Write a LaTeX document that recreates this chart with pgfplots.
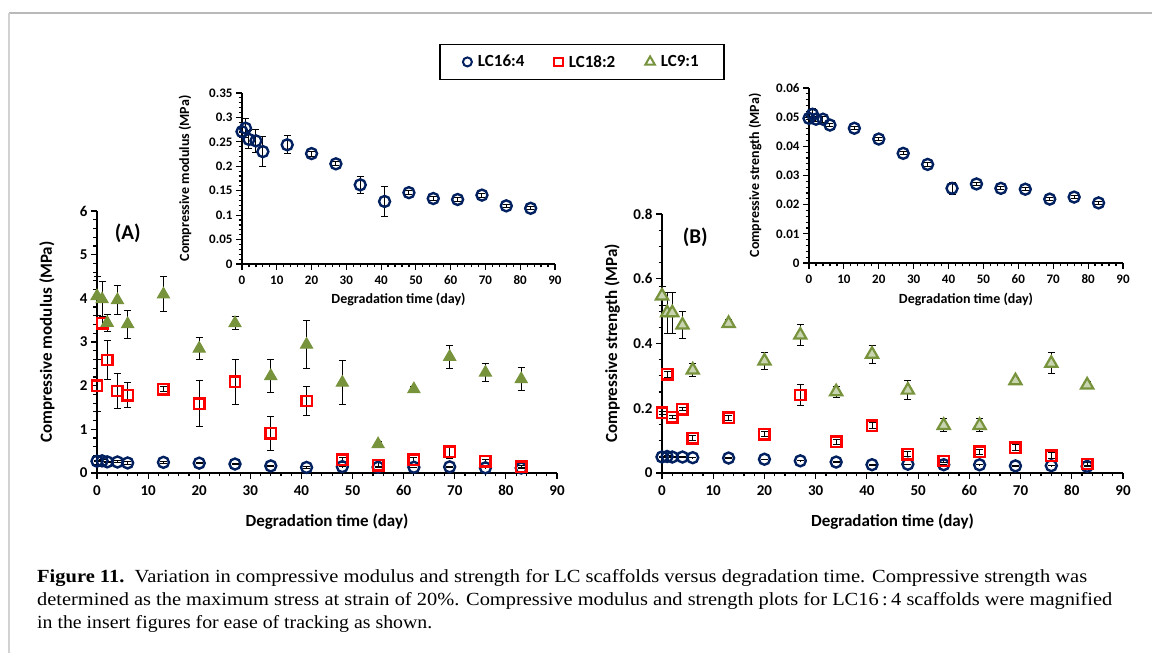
\documentclass[border=0pt]{standalone}
\usepackage{fontspec}
\setmainfont{Carlito}
\newfontfamily\capfont{Liberation Serif}
\usepackage{pgfplots}
\usepackage{pgfplotstable}
\pgfplotsset{compat=1.18}
\definecolor{lcnavy}{RGB}{0,32,96}
\definecolor{lcred}{RGB}{255,0,0}
\definecolor{lcgreen}{RGB}{119,147,60}

% modulus (A)
\pgfplotstableread{
x y e
0 0.271 0.010
1 0.278 0.020
2 0.255 0.018
4 0.252 0.023
6 0.230 0.031
13 0.244 0.018
20 0.226 0.005
27 0.205 0.004
34 0.162 0.018
41 0.128 0.031
48 0.146 0.004
55 0.134 0.004
62 0.132 0.004
69 0.141 0.004
76 0.119 0.003
83 0.114 0.003
}\modCirc
\pgfplotstableread{
x y e
0 2.00 0.60
1 3.43 0.10
2 2.59 0.44
4 1.88 0.41
6 1.78 0.29
13 1.92 0.05
20 1.59 0.53
27 2.09 0.51
34 0.91 0.39
41 1.65 0.33
48 0.30 0.05
55 0.18 0.05
62 0.30 0.05
69 0.49 0.15
76 0.27 0.05
83 0.14 0.03
}\modSq
\pgfplotstableread{
x y e
0 4.05 0.45
1 3.98 0.40
2 3.44 0.20
4 3.96 0.33
6 3.41 0.32
13 4.09 0.40
20 2.85 0.25
27 3.43 0.15
34 2.22 0.37
41 2.94 0.55
48 2.07 0.50
55 0.66 0.05
62 1.92 0.06
69 2.66 0.27
76 2.30 0.21
83 2.15 0.27
}\modTri
% strength (B)
\pgfplotstableread{
x y e
0 0.0496 0.0005
1 0.0510 0.0020
2 0.0493 0.0008
4 0.0493 0.0010
6 0.0473 0.0005
13 0.0462 0.0005
20 0.0425 0.0005
27 0.0376 0.0005
34 0.0338 0.0008
41 0.0256 0.0020
48 0.0271 0.0005
55 0.0256 0.0005
62 0.0253 0.0005
69 0.0219 0.0005
76 0.0226 0.0005
83 0.0206 0.0005
}\strCirc
\pgfplotstableread{
x y e
0 0.186 0.005
1 0.305 0.010
2 0.172 0.005
4 0.197 0.005
6 0.107 0.008
13 0.171 0.008
20 0.120 0.008
27 0.241 0.032
34 0.097 0.008
41 0.146 0.010
48 0.058 0.008
55 0.037 0.005
62 0.066 0.008
69 0.078 0.010
76 0.054 0.008
83 0.028 0.005
}\strSq
\pgfplotstableread{
x y e
0 0.547 0.030
1 0.495 0.063
2 0.495 0.063
4 0.457 0.041
6 0.318 0.020
13 0.462 0.012
20 0.346 0.025
27 0.426 0.032
34 0.251 0.017
41 0.367 0.028
48 0.256 0.030
55 0.147 0.020
62 0.147 0.020
69 0.285 0.010
76 0.339 0.033
83 0.272 0.012
}\strTri

\pgfplotsset{
  excel/.style={scale only axis, clip=false,
    axis x line*=bottom, axis y line*=left,
    axis line style={black, line width=1.6pt},
    tick align=outside, major tick length=6pt, minor tick length=3.5pt,
    every tick/.style={black, line width=1.2pt},
    xmin=0, xmax=90, xtick={0,10,...,90}, minor x tick num=4,
    scaled y ticks=false,
    /pgf/number format/assume math mode=true,
    yticklabel style={/pgf/number format/fixed, /pgf/number format/precision=2},
    error bars/y dir=both, error bars/y explicit,
    error bars/error bar style={black, line width=1pt},
    error bars/error mark options={rotate=90, mark size=3.5pt, black, line width=1pt},
  },
  mainax/.style={excel,
    ticklabel style={font=\fontsize{15}{15}\selectfont\bfseries},
    xticklabel style={yshift=-3pt},
    label style={font=\fontsize{17}{17}\selectfont\bfseries},
    xlabel style={at={(axis description cs:0.5,-0.187)}, anchor=center},
  },
  insetax/.style={excel,
    ticklabel style={font=\fontsize{13}{13}\selectfont\bfseries},
    xticklabel style={yshift=-2pt},
    label style={font=\fontsize{14}{14}\selectfont\bfseries},
    minor y tick num=4,
  },
  circ/.style={only marks, mark=o, mark size=5.5pt,
    mark options={draw=lcnavy, line width=2.4pt}},
  sqr/.style={only marks, mark=square, mark size=5.2pt,
    mark options={draw=lcred, line width=2.4pt}},
  triA/.style={only marks, mark=triangle*, mark size=7pt,
    mark options={draw=lcgreen, fill=lcgreen, line width=1pt}},
  triB/.style={only marks, mark=triangle*, mark size=7pt,
    mark options={draw=lcgreen, fill=lcgreen!40!white, line width=2.2pt}},
}

\begin{document}
\begin{tikzpicture}
\path[use as bounding box] (0pt,0pt) rectangle (1152pt,653pt);
\draw[gray!55, line width=1.5pt] (9pt,640pt) -- (1152pt,640pt);
\draw[gray!35, line width=2pt] (9pt,640pt) -- (9pt,0pt);

% (A) main
\begin{axis}[mainax, at={(97pt,180pt)}, anchor=south west, width=460pt, height=262pt,
  ymin=0, ymax=6, ytick={0,1,...,6}, minor y tick num=4,
  xlabel={Degradation time (day)}, ylabel={Compressive modulus (MPa)},
  ylabel style={at={(axis description cs:-0.109,0.5)}, anchor=center},
  legend style={at={(axis description cs:1.054,1.569)}, anchor=center,
    legend columns=3, draw=black, line width=1.6pt,
    font=\fontsize{17}{17}\selectfont\bfseries,
    inner xsep=23pt, inner ysep=9pt,
    /tikz/every odd column/.append style={column sep=4pt},
    /tikz/every even column/.append style={column sep=28pt}},
]
\addlegendimage{only marks, mark=o, mark size=4.5pt, lcnavy, line width=2pt}
\addlegendentry{LC16:4}
\addlegendimage{only marks, mark=square, mark size=4.2pt, lcred, line width=2pt}
\addlegendentry{LC18:2}
\addlegendimage{only marks, mark=triangle, mark size=5.5pt, lcgreen, line width=2pt}
\addlegendentry{LC9:1}
\addplot[circ, forget plot] table[x=x, y=y, y error=e] {\modCirc};
\addplot[sqr, forget plot] table[x=x, y=y, y error=e] {\modSq};
\addplot[triA, forget plot] table[x=x, y=y, y error=e] {\modTri};
\node[font=\fontsize{21}{21}\selectfont\bfseries] at (rel axis cs:0.067,0.916) {(A)};
\end{axis}

% (A) inset
\begin{axis}[insetax, at={(242pt,389pt)}, anchor=south west, width=313pt, height=171pt,
  ymin=0, ymax=0.35, ytick={0,0.05,...,0.35},
  xlabel={Degradation time (day)}, ylabel={Compressive modulus (MPa)},
  xlabel style={at={(axis description cs:0.5,-0.205)}, anchor=center},
  ylabel style={at={(axis description cs:-0.182,0.5)}, anchor=center},
]
\addplot[circ] table[x=x, y=y, y error=e] {\modCirc};
\end{axis}

% (B) main
\begin{axis}[mainax, at={(662pt,180pt)}, anchor=south west, width=461pt, height=259pt,
  ymin=0, ymax=0.8, ytick={0,0.2,...,0.8}, minor y tick num=3,
  xlabel={Degradation time (day)}, ylabel={Compressive strength (MPa)},
  ylabel style={at={(axis description cs:-0.108,0.5)}, anchor=center},
]
\addplot[circ] table[x=x, y=y, y error=e] {\strCirc};
\addplot[sqr] table[x=x, y=y, y error=e] {\strSq};
\addplot[triB] table[x=x, y=y, y error=e] {\strTri};
\node[font=\fontsize{21}{21}\selectfont\bfseries] at (rel axis cs:0.072,0.911) {(B)};
\end{axis}

% (B) inset
\begin{axis}[insetax, at={(809pt,390pt)}, anchor=south west, width=314pt, height=175pt,
  ymin=0, ymax=0.06, ytick={0,0.01,...,0.06},
  xlabel={Degradation time (day)}, ylabel={Compressive strength (MPa)},
  xlabel style={at={(axis description cs:0.5,-0.211)}, anchor=center},
  ylabel style={at={(axis description cs:-0.172,0.5)}, anchor=center},
]
\addplot[circ] table[x=x, y=y, y error=e] {\strCirc};
\end{axis}

% caption
\node[anchor=base west, inner sep=0] at (37pt,70pt) {\capfont\fontsize{18.5}{20}\selectfont
  \resizebox{1050pt}{\height}{\textbf{Figure 11.}\enspace Variation in compressive modulus and strength for LC scaffolds versus degradation time. Compressive strength was}};
\node[anchor=base west, inner sep=0] at (37pt,47pt) {\capfont\fontsize{18.5}{20}\selectfont
  \resizebox{1075pt}{\height}{determined as the maximum stress at strain of 20\%. Compressive modulus and strength plots for LC16\,:\,4 scaffolds were magnified}};
\node[anchor=base west, inner sep=0] at (37pt,24pt) {\capfont\fontsize{18.5}{20}\selectfont
  \resizebox{395pt}{\height}{in the insert figures for ease of tracking as shown.}};
\end{tikzpicture}
\end{document}
